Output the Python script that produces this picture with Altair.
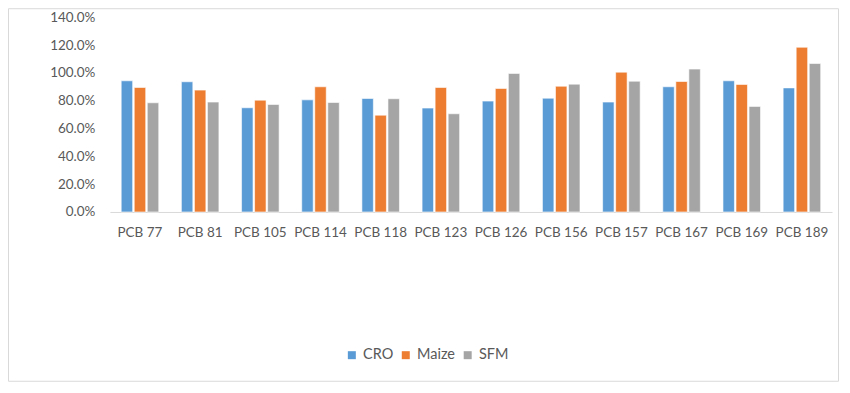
import altair as alt
import pandas as pd

categories = ["PCB 77", "PCB 81", "PCB 105", "PCB 114", "PCB 118", "PCB 123",
              "PCB 126", "PCB 156", "PCB 157", "PCB 167", "PCB 169", "PCB 189"]
series = ["CRO", "Maize", "SFM"]
cro = [94.3, 93.6, 74.9, 80.6, 81.6, 74.7, 79.7, 81.8, 79.0, 90.0, 94.3, 89.2]
maize = [89.5, 87.6, 80.4, 90.0, 69.6, 89.5, 88.8, 90.4, 100.5, 93.8, 91.7, 118.4]
sfm = [78.5, 79.0, 77.3, 78.7, 81.4, 70.6, 99.6, 91.9, 94.0, 102.7, 75.9, 106.7]
colors = ["#5B9BD5", "#ED7D31", "#A5A5A5"]

rows = []
for i, c in enumerate(categories):
    for s, vals in zip(series, [cro, maize, sfm]):
        rows.append({"PCB": c, "Series": s, "Value": vals[i] / 100.0})
df = pd.DataFrame(rows)

FONT = "Lato"
W, H = 723, 195

frame = alt.Chart(pd.DataFrame({"a": [0]})).mark_rect(
    fill="transparent", stroke="#D9D9D9", strokeWidth=1
).encode(
    x=alt.value(-101.5), x2=alt.value(729.5), y=alt.value(-8.5), y2=alt.value(364.5)
)

bars = alt.Chart(df).mark_bar(stroke="white", strokeWidth=0.6).encode(
    x=alt.X("PCB:N", sort=categories, title=None,
            scale=alt.Scale(paddingInner=0.376, paddingOuter=0.188),
            axis=alt.Axis(labelAngle=0, ticks=False, domainColor="#D9D9D9",
                          labelFontSize=13.5, labelFont=FONT, labelColor="#595959",
                          labelPadding=14, grid=False)),
    xOffset=alt.XOffset("Series:N", sort=series,
                        scale=alt.Scale(paddingInner=0.12, paddingOuter=0)),
    y=alt.Y("Value:Q", title=None,
            scale=alt.Scale(domain=[0, 1.4], nice=False),
            axis=alt.Axis(format=".1%", values=[0, 0.2, 0.4, 0.6, 0.8, 1.0, 1.2, 1.4],
                          ticks=False, domain=False, grid=False,
                          labelFontSize=13.5, labelFont=FONT, labelColor="#595959",
                          labelPadding=15)),
    color=alt.Color("Series:N", sort=series,
                    scale=alt.Scale(domain=series, range=colors),
                    legend=alt.Legend(title=None, orient="none", direction="horizontal",
                                      legendX=235, legendY=331, symbolType="square",
                                      symbolSize=64, symbolStrokeWidth=0,
                                      labelFontSize=14.5, labelFont=FONT, labelColor="#595959",
                                      columnPadding=5, labelOffset=4)),
)

chart = alt.layer(frame, bars).properties(
    width=W, height=H,
    autosize=alt.AutoSizeParams(type="none"),
    padding={"left": 102, "top": 9, "right": 10, "bottom": 172},
).configure_view(stroke=None)

chart.save("out.html", embed_options={"renderer": "svg", "actions": False})
